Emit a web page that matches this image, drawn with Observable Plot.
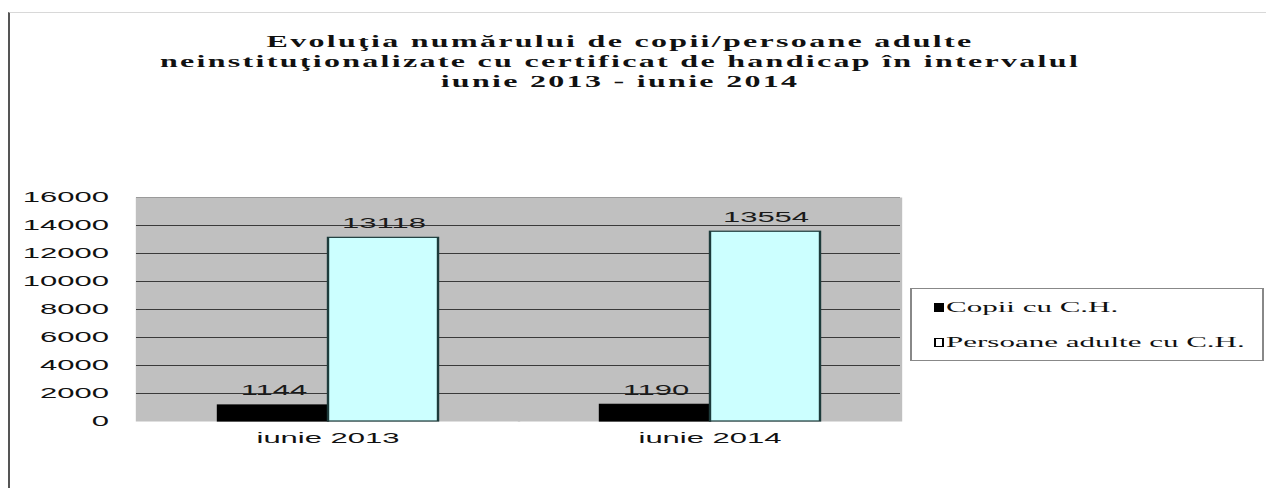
<!DOCTYPE html>
<html>
<head>
<meta charset="utf-8">
<script src="https://cdn.jsdelivr.net/npm/d3@7"></script>
<script src="https://cdn.jsdelivr.net/npm/@observablehq/plot@0.6"></script>
<style>
  html, body { margin: 0; padding: 0; background: #fff; overflow: hidden; }
  #wrap { position: absolute; left: 0; top: 0; height: 488px; transform-origin: 0 0; }
  #border { position: absolute; top: 12px; bottom: 0; right: 0; border-left: 1px solid #555; border-top: 1px solid #d8d8d8; }
  #title { position: absolute; left: 0; top: 32px; text-align: center; font-family: "Liberation Serif", "Times New Roman", serif; font-weight: bold; font-size: 16px; letter-spacing: 1.15px; line-height: 20px; color: #111; }
  #chart { position: absolute; left: 0; top: 0; }
  #legend { position: absolute; box-sizing: border-box; border: 1px solid #888; background: #fff; font-family: "Liberation Serif", "Times New Roman", serif; font-size: 15.5px; color: #111; }
  .item { position: absolute; left: 0; white-space: nowrap; line-height: 20px; }
  .sw { display: inline-block; width: 5.5px; height: 9px; box-sizing: border-box; border: 1px solid #000; margin-right: 1px; vertical-align: 0px; }
</style>
</head>
<body>
<div id="wrap">
  <div id="border"></div>
  <div id="chart"></div>
  <div id="title"></div>
  <div id="legend"></div>
</div>
<script>
const titleLines = [
  "Evoluţia numărului de copii/persoane adulte",
  "neinstituţionalizate cu certificat de handicap în intervalul",
  "iunie 2013 - iunie 2014"
];
const categories = ["iunie 2013", "iunie 2014"];
const series = ["Copii cu C.H.", "Persoane adulte cu C.H."];
const copii = [1144, 1190];
const adulti = [13118, 13554];
const yTicks = [0, 2000, 4000, 6000, 8000, 10000, 12000, 14000, 16000];
const seriesColors = ["#000000", "#ccffff"];

const S = 2.0;               // horizontal stretch of the reference
const W = 1266 / S;

const data = [];
categories.forEach((c, i) => {
  data.push({cat: c, series: series[0], value: copii[i]});
  data.push({cat: c, series: series[1], value: adulti[i]});
});

const wrap = document.getElementById("wrap");
wrap.style.width = W + "px";
wrap.style.transform = `scaleX(${S})`;

const border = document.getElementById("border");
border.style.left = (8 / S) + "px";

const title = document.getElementById("title");
title.style.width = (2 * 620 / S) + "px";
title.innerHTML = titleLines.map(t => `<div>${t}</div>`).join("");

const chart = Plot.plot({
  width: W,
  height: 488,
  marginTop: 197,
  marginBottom: 67,
  marginLeft: 136 / S,
  marginRight: W - 900 / S,
  style: {fontFamily: "'Liberation Sans', Arial, sans-serif", fontSize: "15.5px", background: "transparent", color: "#111", overflow: "visible"},
  fx: {domain: categories, padding: 0, label: null, tickSize: 0, tickPadding: 10, axis: "bottom", fontSize: 16},
  x: {domain: series, axis: null, paddingInner: 0, paddingOuter: 0.736},
  y: {domain: [0, 16000], ticks: yTicks, tickFormat: d3.format("d"), tickSize: 0, tickPadding: 28 / S, label: null},
  color: {domain: series, range: seriesColors},
  marks: [
    Plot.frame({fill: "#c0c0c0", stroke: "none", insetLeft: -0.6, insetRight: -0.6}),
    Plot.gridY(yTicks.filter(t => t > 0 && t < 16000), {stroke: "#3a3a3a", strokeOpacity: 1, strokeWidth: 1}),
    Plot.ruleY([16000], {stroke: "#9a9a9a"}),
    Plot.barY(data, {fx: "cat", x: "series", y: "value", fill: "series", stroke: d => d.series === series[1] ? "#1d3b3b" : "#000", strokeWidth: 1.2}),
    Plot.text(data, {fx: "cat", x: "series", y: "value", text: d => String(d.value), dy: -15, fontSize: 15.5, fill: "#1a1a1a"})
  ]
});
document.getElementById("chart").appendChild(chart);

const legend = document.getElementById("legend");
legend.style.left = (910 / S) + "px";
legend.style.top = "288px";
legend.style.width = ((1263 - 910) / S) + "px";
legend.style.height = "73px";
legend.innerHTML = series.map((s, i) =>
  `<div class="item" style="left:${(931 - 910) / S}px; top:${i === 0 ? 8 : 43}px"><span class="sw" style="background:${i === 0 ? seriesColors[0] : "#fff"}"></span>${s}</div>`
).join("");
</script>
</body>
</html>
